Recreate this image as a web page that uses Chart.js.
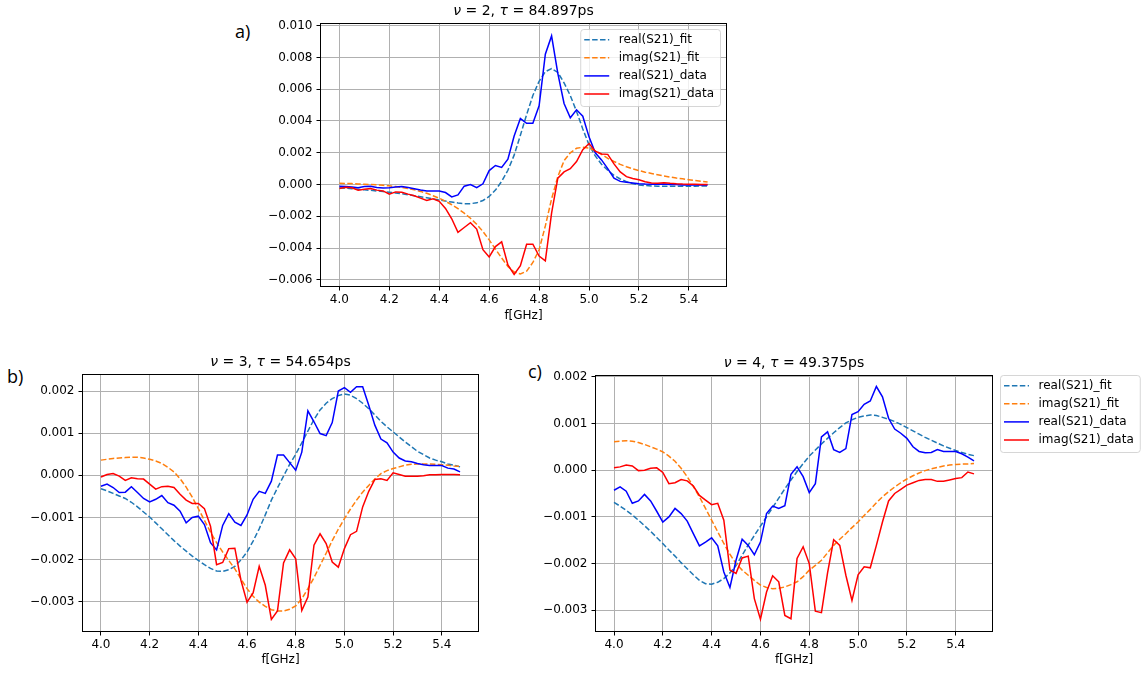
<!DOCTYPE html>
<html>
<head>
<meta charset="utf-8">
<script src="https://cdn.jsdelivr.net/npm/chart.js@4.4.0/dist/chart.umd.min.js"></script>
<style>
  body { margin: 0; background: #fff; width: 1141px; height: 673px; position: relative; overflow: hidden; }
  canvas { position: absolute; }
  .tag { position: absolute; font-family: "Open Sans", sans-serif; font-size: 18px; line-height: 18px; color: #000; }
</style>
</head>
<body>
<div class="tag" style="left:235px;top:22px">a)</div>
<div class="tag" style="left:7px;top:367px">b)</div>
<div class="tag" style="left:528px;top:362px">c)</div>
<canvas id="chartA" width="480" height="330" style="left:260px;top:0px"></canvas>
<canvas id="chartB" width="490" height="338" style="left:0px;top:335px"></canvas>
<canvas id="chartC" width="621" height="338" style="left:520px;top:335px"></canvas>
<script>
// frequency points (GHz)
const freq = [
  4.000, 4.025, 4.050, 4.075, 4.100, 4.125, 4.150, 4.175, 4.200, 4.225,
  4.250, 4.275, 4.300, 4.325, 4.350, 4.375, 4.400, 4.425, 4.450, 4.475,
  4.500, 4.525, 4.550, 4.575, 4.600, 4.625, 4.650, 4.675, 4.700, 4.725,
  4.750, 4.775, 4.800, 4.825, 4.850, 4.875, 4.900, 4.925, 4.950, 4.975,
  5.000, 5.025, 5.050, 5.075, 5.100, 5.125, 5.150, 5.175, 5.200, 5.225,
  5.250, 5.275, 5.300, 5.325, 5.350, 5.375, 5.400, 5.425, 5.450, 5.475
];
const freqTicks = [4.0, 4.2, 4.4, 4.6, 4.8, 5.0, 5.2, 5.4];
const yTicksA = [-0.006, -0.004, -0.002, 0.000, 0.002, 0.004, 0.006, 0.008, 0.010];
const yTicksB = [-0.003, -0.002, -0.001, 0.000, 0.001, 0.002];
const yTicksC = [-0.003, -0.002, -0.001, 0.000, 0.001, 0.002];

// a) nu = 2
const realFitA = [
  -0.00020, -0.00023, -0.00026, -0.00029, -0.00033, -0.00036, -0.00040, -0.00044, -0.00048, -0.00053,
  -0.00058, -0.00064, -0.00070, -0.00076, -0.00083, -0.00090, -0.00097, -0.00104, -0.00110, -0.00116,
  -0.00120, -0.00120, -0.00115, -0.00100, -0.00075, -0.00035, 0.00020, 0.00090, 0.00185, 0.00310,
  0.00440, 0.00560, 0.00650, 0.00710, 0.00730, 0.00705, 0.00640, 0.00560, 0.00460, 0.00350,
  0.00250, 0.00180, 0.00128, 0.00090, 0.00058, 0.00035, 0.00018, 0.00006, -0.00002, -0.00006,
  -0.00009, -0.00010, -0.00011, -0.00011, -0.00011, -0.00011, -0.00010, -0.00010, -0.00009, -0.00009
];
const imagFitA = [
  0.00008, 0.00007, 0.00006, 0.00004, 0.00002, 0.00000, -0.00002, -0.00005, -0.00008, -0.00012,
  -0.00018, -0.00025, -0.00033, -0.00043, -0.00055, -0.00070, -0.00086, -0.00105, -0.00127, -0.00152,
  -0.00180, -0.00212, -0.00250, -0.00295, -0.00348, -0.00405, -0.00462, -0.00515, -0.00550, -0.00562,
  -0.00545, -0.00490, -0.00410, -0.00260, -0.00090, 0.00050, 0.00150, 0.00200, 0.00228, 0.00235,
  0.00230, 0.00212, 0.00190, 0.00165, 0.00145, 0.00127, 0.00112, 0.00099, 0.00088, 0.00078,
  0.00070, 0.00062, 0.00054, 0.00047, 0.00041, 0.00036, 0.00031, 0.00026, 0.00021, 0.00016
];
const realDataA = [
  -0.00010, -0.00012, -0.00015, -0.00020, -0.00012, -0.00010, -0.00018, -0.00022, -0.00020, -0.00016,
  -0.00012, -0.00018, -0.00026, -0.00034, -0.00040, -0.00040, -0.00040, -0.00050, -0.00078, -0.00065,
  -0.00010, 0.00000, -0.00020, 0.00005, 0.00088, 0.00120, 0.00108, 0.00160, 0.00305, 0.00415,
  0.00385, 0.00385, 0.00495, 0.00820, 0.00935, 0.00700, 0.00510, 0.00420, 0.00470, 0.00430,
  0.00300, 0.00200, 0.00155, 0.00100, 0.00040, 0.00020, 0.00015, 0.00010, 0.00005, 0.00003,
  0.00002, 0.00002, 0.00003, 0.00000, 0.00000, -0.00002, -0.00002, -0.00003, -0.00003, -0.00003
];
const imagDataA = [
  -0.00025, -0.00017, -0.00020, -0.00035, -0.00030, -0.00025, -0.00035, -0.00040, -0.00060, -0.00046,
  -0.00048, -0.00060, -0.00070, -0.00085, -0.00100, -0.00090, -0.00105, -0.00150, -0.00215, -0.00300,
  -0.00270, -0.00240, -0.00280, -0.00410, -0.00455, -0.00390, -0.00360, -0.00505, -0.00565, -0.00510,
  -0.00375, -0.00375, -0.00450, -0.00480, -0.00180, 0.00040, 0.00080, 0.00100, 0.00145, 0.00220,
  0.00258, 0.00210, 0.00192, 0.00190, 0.00130, 0.00080, 0.00050, 0.00038, 0.00030, 0.00018,
  0.00010, 0.00008, 0.00012, 0.00008, 0.00005, 0.00003, 0.00002, 0.00002, 0.00001, 0.00000
];

// b) nu = 3
const realFitB = [
  -0.00032, -0.00037, -0.00043, -0.00049, -0.00055, -0.00064, -0.00075, -0.00087, -0.00099, -0.00113,
  -0.00127, -0.00141, -0.00155, -0.00168, -0.00180, -0.00192, -0.00202, -0.00212, -0.00221, -0.00227,
  -0.00228, -0.00224, -0.00216, -0.00201, -0.00182, -0.00156, -0.00127, -0.00094, -0.00059, -0.00030,
  -0.00002, 0.00026, 0.00050, 0.00077, 0.00105, 0.00132, 0.00155, 0.00171, 0.00182, 0.00189,
  0.00193, 0.00190, 0.00182, 0.00171, 0.00158, 0.00143, 0.00128, 0.00115, 0.00103, 0.00091,
  0.00079, 0.00068, 0.00057, 0.00049, 0.00041, 0.00036, 0.00032, 0.00027, 0.00024, 0.00020
];
const imagFitB = [
  0.00036, 0.00038, 0.00040, 0.00041, 0.00042, 0.00043, 0.00043, 0.00041, 0.00038, 0.00034,
  0.00028, 0.00019, 0.00008, -0.00008, -0.00028, -0.00052, -0.00079, -0.00107, -0.00135, -0.00160,
  -0.00182, -0.00202, -0.00222, -0.00246, -0.00269, -0.00287, -0.00301, -0.00311, -0.00319, -0.00322,
  -0.00322, -0.00318, -0.00310, -0.00293, -0.00269, -0.00243, -0.00214, -0.00185, -0.00155, -0.00128,
  -0.00103, -0.00080, -0.00059, -0.00040, -0.00024, -0.00009, 0.00004, 0.00011, 0.00016, 0.00020,
  0.00024, 0.00026, 0.00027, 0.00027, 0.00027, 0.00026, 0.00025, 0.00024, 0.00022, 0.00021
];
const realDataB = [
  -0.00026, -0.00021, -0.00029, -0.00041, -0.00040, -0.00027, -0.00041, -0.00055, -0.00063, -0.00057,
  -0.00048, -0.00065, -0.00071, -0.00085, -0.00113, -0.00100, -0.00097, -0.00117, -0.00160, -0.00177,
  -0.00119, -0.00091, -0.00111, -0.00119, -0.00094, -0.00057, -0.00038, -0.00043, -0.00014, 0.00048,
  0.00048, 0.00030, 0.00012, 0.00055, 0.00153, 0.00127, 0.00099, 0.00094, 0.00125, 0.00200,
  0.00208, 0.00197, 0.00210, 0.00210, 0.00166, 0.00119, 0.00086, 0.00077, 0.00055, 0.00041,
  0.00034, 0.00032, 0.00028, 0.00025, 0.00023, 0.00023, 0.00023, 0.00017, 0.00015, 0.00008
];
const imagDataB = [
  -0.00004, 0.00002, 0.00004, -0.00002, -0.00012, -0.00006, -0.00008, -0.00009, -0.00021, -0.00033,
  -0.00027, -0.00026, -0.00029, -0.00045, -0.00059, -0.00067, -0.00067, -0.00079, -0.00121, -0.00212,
  -0.00207, -0.00174, -0.00173, -0.00249, -0.00301, -0.00279, -0.00216, -0.00261, -0.00342, -0.00322,
  -0.00208, -0.00177, -0.00198, -0.00321, -0.00289, -0.00166, -0.00139, -0.00162, -0.00206, -0.00218,
  -0.00174, -0.00141, -0.00133, -0.00075, -0.00038, -0.00010, -0.00008, -0.00012, 0.00006, 0.00002,
  -0.00002, -0.00002, -0.00002, -0.00001, 0.00001, 0.00001, 0.00002, 0.00002, 0.00002, 0.00001
];

// c) nu = 4
const realFitC = [
  -0.00069, -0.00077, -0.00086, -0.00096, -0.00107, -0.00119, -0.00131, -0.00144, -0.00157, -0.00171,
  -0.00184, -0.00198, -0.00211, -0.00224, -0.00236, -0.00243, -0.00244, -0.00240, -0.00232, -0.00220,
  -0.00204, -0.00182, -0.00160, -0.00140, -0.00120, -0.00100, -0.00080, -0.00060, -0.00040, -0.00021,
  -0.00003, 0.00014, 0.00030, 0.00043, 0.00056, 0.00068, 0.00080, 0.00091, 0.00101, 0.00108,
  0.00113, 0.00116, 0.00118, 0.00117, 0.00113, 0.00109, 0.00104, 0.00098, 0.00091, 0.00084,
  0.00077, 0.00070, 0.00064, 0.00058, 0.00052, 0.00047, 0.00042, 0.00038, 0.00034, 0.00031
];
const imagFitC = [
  0.00061, 0.00062, 0.00063, 0.00062, 0.00059, 0.00055, 0.00050, 0.00045, 0.00039, 0.00030,
  0.00019, 0.00004, -0.00014, -0.00035, -0.00057, -0.00082, -0.00107, -0.00132, -0.00157, -0.00180,
  -0.00200, -0.00214, -0.00225, -0.00236, -0.00246, -0.00251, -0.00254, -0.00253, -0.00250, -0.00245,
  -0.00239, -0.00228, -0.00214, -0.00204, -0.00193, -0.00177, -0.00161, -0.00148, -0.00136, -0.00123,
  -0.00111, -0.00097, -0.00084, -0.00070, -0.00057, -0.00046, -0.00036, -0.00027, -0.00019, -0.00012,
  -0.00006, -0.00001, 0.00003, 0.00006, 0.00009, 0.00011, 0.00012, 0.00013, 0.00013, 0.00014
];
const realDataC = [
  -0.00043, -0.00036, -0.00045, -0.00071, -0.00066, -0.00052, -0.00066, -0.00088, -0.00111, -0.00100,
  -0.00082, -0.00093, -0.00109, -0.00136, -0.00162, -0.00154, -0.00145, -0.00162, -0.00218, -0.00251,
  -0.00193, -0.00148, -0.00161, -0.00181, -0.00154, -0.00093, -0.00077, -0.00082, -0.00076, -0.00009,
  0.00007, -0.00014, -0.00048, -0.00029, 0.00071, 0.00082, 0.00044, 0.00038, 0.00046, 0.00119,
  0.00125, 0.00141, 0.00148, 0.00179, 0.00157, 0.00111, 0.00088, 0.00079, 0.00068, 0.00050,
  0.00040, 0.00037, 0.00038, 0.00044, 0.00040, 0.00040, 0.00040, 0.00035, 0.00028, 0.00020
];
const imagDataC = [
  0.00005, 0.00007, 0.00011, 0.00009, -0.00001, 0.00000, 0.00004, 0.00005, -0.00005, -0.00029,
  -0.00027, -0.00020, -0.00023, -0.00034, -0.00054, -0.00064, -0.00074, -0.00071, -0.00107, -0.00214,
  -0.00221, -0.00188, -0.00184, -0.00275, -0.00319, -0.00261, -0.00226, -0.00239, -0.00311, -0.00318,
  -0.00189, -0.00164, -0.00200, -0.00302, -0.00305, -0.00220, -0.00149, -0.00161, -0.00225, -0.00279,
  -0.00224, -0.00207, -0.00209, -0.00161, -0.00111, -0.00066, -0.00050, -0.00041, -0.00032, -0.00027,
  -0.00022, -0.00020, -0.00020, -0.00024, -0.00024, -0.00021, -0.00018, -0.00016, -0.00004, -0.00008
];

const FONT = { family: "'DejaVu Sans', sans-serif", size: 12 };

function pts(values) {
  return values.map((v, i) => ({ x: freq[i], y: v }));
}

function series(realFit, imagFit, realData, imagData) {
  const base = { pointRadius: 0, borderWidth: 1.5, tension: 0, fill: false };
  return [
    { ...base, label: 'real(S21)_fit', data: pts(realFit), borderColor: '#1f77b4', borderDash: [5.5, 2.4], order: 4 },
    { ...base, label: 'imag(S21)_fit', data: pts(imagFit), borderColor: '#ff7f0e', borderDash: [5.5, 2.4], order: 3 },
    { ...base, label: 'real(S21)_data', data: pts(realData), borderColor: '#0000ff', order: 2 },
    { ...base, label: 'imag(S21)_data', data: pts(imagData), borderColor: '#ff0000', order: 1 }
  ];
}

function fmtY(v) {
  return v.toFixed(3).replace('-', '\u2212');
}

// frame, title with italic symbols, and the matplotlib-like legend
function makeDecor(titleParts, legendPlace) {
  return {
    id: 'decor',
    afterDraw(chart) {
      const { ctx, chartArea: a } = chart;
      ctx.save();
      ctx.strokeStyle = '#000';
      ctx.lineWidth = 1;
      ctx.strokeRect(Math.round(a.left) - 0.5, Math.round(a.top) - 0.5,
                     Math.round(a.right - a.left) + 1, Math.round(a.bottom - a.top) + 1);

      // title
      ctx.fillStyle = '#000';
      ctx.textBaseline = 'middle';
      const fontOf = p => (p.italic ? 'italic ' : '') + "14px 'DejaVu Sans'";
      const widths = titleParts.map(p => { ctx.font = fontOf(p); return ctx.measureText(p.text).width; });
      let x = (a.left + a.right) / 2 - widths.reduce((s, w) => s + w, 0) / 2;
      titleParts.forEach((p, i) => {
        ctx.font = fontOf(p);
        ctx.fillText(p.text, x, a.top - 12.5);
        x += widths[i];
      });

      // legend (only on a and c)
      if (legendPlace !== 'none') {
        const ds = chart.data.datasets;
        ctx.font = "12px 'DejaVu Sans'";
        const tw = Math.max(...ds.map(d => ctx.measureText(d.label).width));
        const w = 38.5 + tw + 6, h = 77;
        let bx, by;
        if (legendPlace === 'inside') { bx = a.right - 6 - w; by = a.top + 5; }
        else { bx = a.right + 8; by = a.top - 1; }
        ctx.beginPath();
        if (ctx.roundRect) ctx.roundRect(bx + 0.5, by + 0.5, w, h, 3);
        else ctx.rect(bx + 0.5, by + 0.5, w, h);
        ctx.globalAlpha = 0.8;
        ctx.fillStyle = '#fff';
        ctx.fill();
        ctx.strokeStyle = '#cccccc';
        ctx.lineWidth = 1;
        ctx.stroke();
        ctx.globalAlpha = 1;
        ds.forEach((d, i) => {
          const y = by + 10.7 + i * 18.1;
          ctx.strokeStyle = d.borderColor;
          ctx.lineWidth = 1.5;
          ctx.setLineDash(d.borderDash || []);
          ctx.beginPath();
          ctx.moveTo(bx + 4, y);
          ctx.lineTo(bx + 29, y);
          ctx.stroke();
          ctx.setLineDash([]);
          ctx.fillStyle = '#000';
          ctx.textAlign = 'left';
          ctx.fillText(d.label, bx + 38.5, y);
        });
      }
      ctx.restore();
    }
  };
}

function makeScales(yMin, yMax, yTicks, yWidth, xHeight, titlePad) {
  return {
    x: {
      type: 'linear',
      min: 3.92625,
      max: 5.54875,
      afterBuildTicks: ax => { ax.ticks = freqTicks.map(v => ({ value: v })); },
      afterFit: ax => { ax.height = xHeight; },
      ticks: { callback: v => v.toFixed(1), font: FONT, color: '#000', padding: 2.3, maxRotation: 0, autoSkip: false },
      grid: { color: '#b0b0b0', lineWidth: 1, tickColor: '#000', tickLength: 4.5 },
      border: { display: false },
      title: { display: true, text: 'f[GHz]', font: FONT, color: '#000', padding: { top: 0, bottom: titlePad } }
    },
    y: {
      type: 'linear',
      min: yMin,
      max: yMax,
      afterBuildTicks: ax => { ax.ticks = yTicks.map(v => ({ value: v })); },
      afterFit: ax => { ax.width = yWidth; },
      ticks: { callback: v => fmtY(v), font: FONT, color: '#000', padding: 4, autoSkip: false },
      grid: { color: '#b0b0b0', lineWidth: 1, tickColor: '#000', tickLength: 4.5 },
      border: { display: false }
    }
  };
}

function makeChart(id, datasets, scales, padding, decor) {
  return new Chart(document.getElementById(id), {
    type: 'line',
    data: { datasets },
    options: {
      responsive: false,
      animation: false,
      devicePixelRatio: 1,
      layout: { padding },
      plugins: { legend: { display: false }, title: { display: false }, tooltip: { enabled: false } },
      scales
    },
    plugins: [decor]
  });
}

makeChart('chartA',
  series(realFitA, imagFitA, realDataA, imagDataA),
  makeScales(-0.00638, 0.0101, yTicksA, 61, 44, 6.8),
  { top: 24, right: 14, left: 0, bottom: 0 },
  makeDecor([{ text: '\u03bd', italic: true }, { text: ' = 2, ' }, { text: '\u03c4', italic: true }, { text: ' = 84.897ps' }], 'inside'));

makeChart('chartB',
  series(realFitB, imagFitB, realDataB, imagDataB),
  makeScales(-0.003695, 0.00238, yTicksB, 83, 42, 5.8),
  { top: 40, right: 12, left: 0, bottom: 0 },
  makeDecor([{ text: '\u03bd', italic: true }, { text: ' = 3, ' }, { text: '\u03c4', italic: true }, { text: ' = 54.654ps' }], 'none'));

makeChart('chartC',
  series(realFitC, imagFitC, realDataC, imagDataC),
  makeScales(-0.003443, 0.002015, yTicksC, 76, 42, 5.8),
  { top: 41, right: 149, left: 0, bottom: 0 },
  makeDecor([{ text: '\u03bd', italic: true }, { text: ' = 4, ' }, { text: '\u03c4', italic: true }, { text: ' = 49.375ps' }], 'outside'));
</script>
</body>
</html>
